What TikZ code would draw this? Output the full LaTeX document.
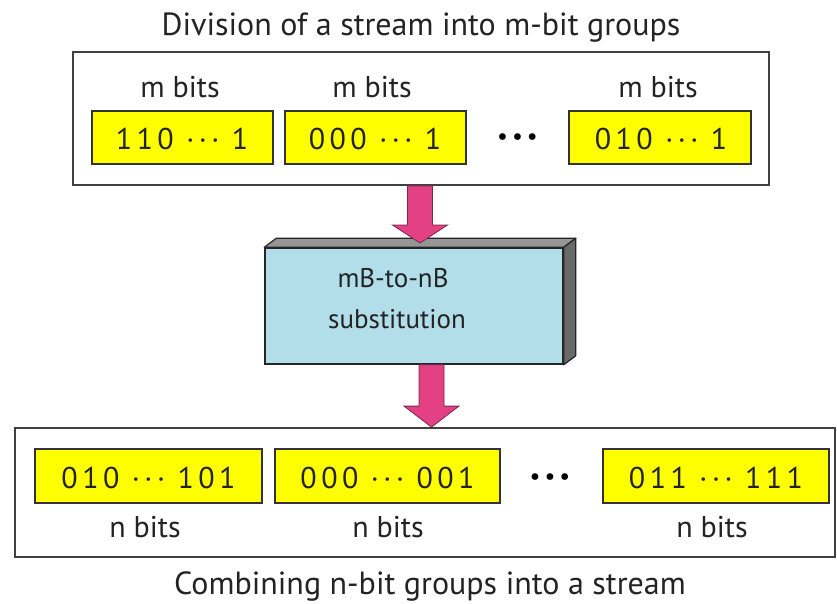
\documentclass[tikz,border=0pt]{standalone}
\usepackage{fontspec}
\setmainfont{PT Sans}
\newfontfamily\spacedfont[LetterSpace=15]{PT Sans}
\usetikzlibrary{calc}
\definecolor{boxyellow}{RGB}{255,255,0}
\definecolor{frontblue}{RGB}{178,222,234}
\definecolor{topgray}{RGB}{150,150,150}
\definecolor{sidegray}{RGB}{105,105,105}
\definecolor{arrowpink}{RGB}{228,64,132}
\definecolor{arrowedge}{RGB}{120,40,80}
\definecolor{txt}{RGB}{35,35,35}
\newcommand\fatarrow[3]{%
  \filldraw[fatarrowstyle] let \p1=(#1), \p2=(#2) in
    (\x1-12.5pt,\y1) -- (\x1-12.5pt,\y2+#3) -- (\x1-27.5pt,\y2+#3) -- (\x2,\y2)
    -- (\x1+27.5pt,\y2+#3) -- (\x1+12.5pt,\y2+#3) -- (\x1+12.5pt,\y1) -- cycle;}
\begin{document}
\begin{tikzpicture}[x=1pt,y=-1pt,
  frame/.style={draw=black!75, line width=1.8pt, inner sep=0pt},
  bitbox/.style={draw=black!80, line width=1.5pt, fill=boxyellow, inner sep=0pt},
  bittext/.style={anchor=base, text=txt, font=\spacedfont\fontsize{30}{32}\selectfont, inner sep=0pt},
  label/.style={anchor=base, text=txt, font=\fontsize{30}{32}\selectfont, inner sep=0pt},
  midlabel/.style={anchor=base, text=txt, font=\fontsize{27}{30}\selectfont, inner sep=0pt},
  title/.style={anchor=base, text=txt, font=\fontsize{32}{34}\selectfont, inner sep=0pt},
  dots/.style={anchor=center, text=black, font=\fontsize{24}{24}\selectfont, inner sep=0pt},
  fatarrowstyle/.style={fill=arrowpink, draw=arrowedge, line width=0.8pt, line join=miter}
]
\useasboundingbox (0,0) rectangle (837,603);
\fill[white] (0,0) rectangle (837,603);

% titles
\node[title] (ttop) at (421,35) {Division of a stream into m-bit groups};
\node[title] (tbot) at (430,594) {Combining n-bit groups into a stream};

% top frame
\node[frame, minimum width=696pt, minimum height=133pt] (topframe) at (421,118.5) {};
\node[bitbox, minimum width=181pt, minimum height=53pt] (m1) at (182.5,137.5) {};
\node[bitbox, minimum width=181pt, minimum height=53pt] (m2) at (375.5,137.5) {};
\node[bitbox, minimum width=182pt, minimum height=53pt] (m3) at (660,137.5) {};
\node[bittext] at (182,149) {110 ··· 1};
\node[bittext] at (375,149) {000 ··· 1};
\node[bittext] at (661,149) {010 ··· 1};
\node[label] (lm1) at (180,97) {m bits};
\node[label] (lm2) at (372,97) {m bits};
\node[label] (lm3) at (658,97) {m bits};
\node[dots] (d1) at (517.5,139) {\textbullet\hspace{4pt}\textbullet\hspace{4pt}\textbullet};

% middle 3D box
\node[draw=black!85, line width=1.5pt, fill=frontblue, minimum width=298pt, minimum height=116pt, inner sep=0pt] (sub) at (414,306) {};
\filldraw[draw=black!85, line width=1.2pt, fill=topgray, line join=round]
  (sub.north west) -- ++(12,-9) -- ($(sub.north east)+(12,-9)$) -- (sub.north east) -- cycle;
\filldraw[draw=black!85, line width=1.2pt, fill=sidegray, line join=round]
  (sub.north east) -- ++(12,-9) -- ($(sub.south east)+(12,-9)$) -- (sub.south east) -- cycle;
\node[midlabel] at (393,287) {mB-to-nB};
\node[midlabel] at (397,328) {substitution};

% bottom frame
\node[frame, minimum width=820pt, minimum height=129pt] (botframe) at (425,492.5) {};
\node[bitbox, minimum width=227pt, minimum height=54pt] (n1) at (148.5,476) {};
\node[bitbox, minimum width=225pt, minimum height=54pt] (n2) at (387.5,476) {};
\node[bitbox, minimum width=226pt, minimum height=54pt] (n3) at (716,476) {};
\node[bittext] at (148.5,488) {010 ··· 101};
\node[bittext] at (387.5,488) {000 ··· 001};
\node[bittext] at (716,488) {011 ··· 111};
\node[label] (ln1) at (145,537) {n bits};
\node[label] (ln2) at (388,537) {n bits};
\node[label] (ln3) at (712,537) {n bits};
\node[dots] (d2) at (550,479) {\textbullet\hspace{4pt}\textbullet\hspace{4pt}\textbullet};

% arrows
\coordinate (a1s) at (topframe.south -| 420,0);
\coordinate (a1e) at (420,243);
\fatarrow{a1s}{a1e}{18pt}
\coordinate (a2s) at (sub.south -| 431.5,0);
\coordinate (a2e) at (botframe.north -| 431.5,0);
\fatarrow{a2s}{a2e}{21pt}
\end{tikzpicture}
\end{document}
